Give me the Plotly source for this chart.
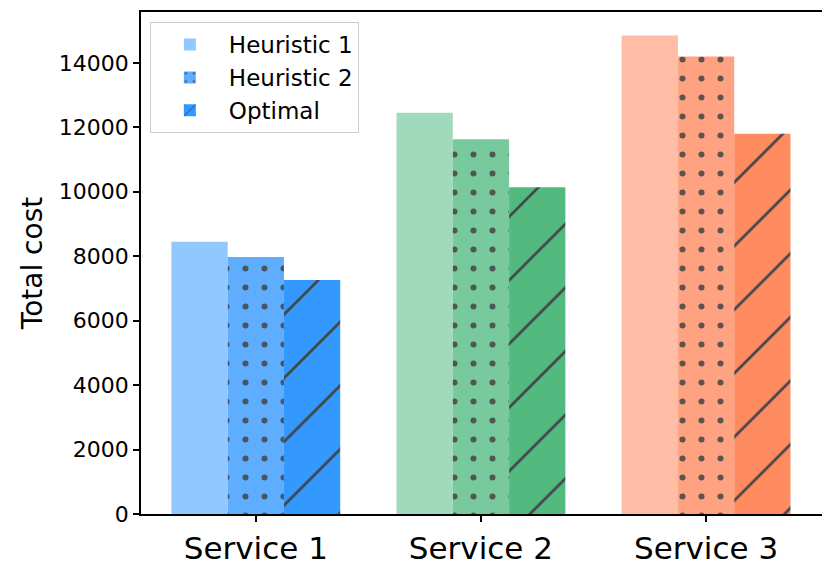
import plotly.graph_objects as go

services = ["Service 1", "Service 2", "Service 3"]
heuristic_1 = [8450, 12450, 14850]
heuristic_2 = [7980, 11630, 14200]
optimal = [7260, 10140, 11800]

# colours per service, light -> dark
colors_h1 = ["#90C8FF", "#A0D9BC", "#FFBDA5"]
colors_h2 = ["#5EADFF", "#78CA9C", "#FFA282"]
colors_opt = ["#3399FF", "#52BA7F", "#FF8C60"]

fig = go.Figure()
fig.add_trace(go.Bar(
    x=services, y=heuristic_1, name="Heuristic 1",
    marker=dict(color=colors_h1, line=dict(width=0)),
))
fig.add_trace(go.Bar(
    x=services, y=heuristic_2, name="Heuristic 2",
    marker=dict(color=colors_h2, line=dict(width=0),
                pattern=dict(shape=".", fgcolor="#555555", fgopacity=0.85,
                             size=19, solidity=0.08)),
))
fig.add_trace(go.Bar(
    x=services, y=optimal, name="Optimal",
    marker=dict(color=colors_opt, line=dict(width=0),
                pattern=dict(shape="/", fgcolor="#000000", fgopacity=1,
                             size=45, solidity=0.06)),
))

# page body has an 8px margin, so the figure is 8px smaller than the window
fig.update_layout(
    width=822, height=560,
    barmode="group", bargap=0.25, bargroupgap=0,
    plot_bgcolor="white", paper_bgcolor="white",
    font=dict(family="DejaVu Sans", color="black"),
    margin=dict(l=133, r=8, t=2, b=54),
    showlegend=True,
    legend=dict(
        x=0.013, y=0.98, xanchor="left", yanchor="top",
        bordercolor="#cccccc", borderwidth=1, bgcolor="rgba(255,255,255,0.8)",
        font=dict(size=23), itemwidth=68, tracegroupgap=2,
    ),
)
fig.update_xaxes(
    range=[-0.51, 2.515], showline=True, linecolor="black", linewidth=1.5,
    mirror=True, ticks="outside", ticklen=6, tickwidth=1.5, tickcolor="black",
    tickfont=dict(size=31), showgrid=False,
)
fig.update_yaxes(
    range=[0, 15580], showline=True, linecolor="black", linewidth=1.5,
    mirror=True, ticks="outside", ticklen=6, tickwidth=1.5, tickcolor="black",
    tickvals=list(range(0, 14001, 2000)), tickformat="d", tickfont=dict(size=22),
    showgrid=False, zeroline=False,
    title=dict(text="Total cost", font=dict(size=28), standoff=8),
)

fig.write_html("out.html")
